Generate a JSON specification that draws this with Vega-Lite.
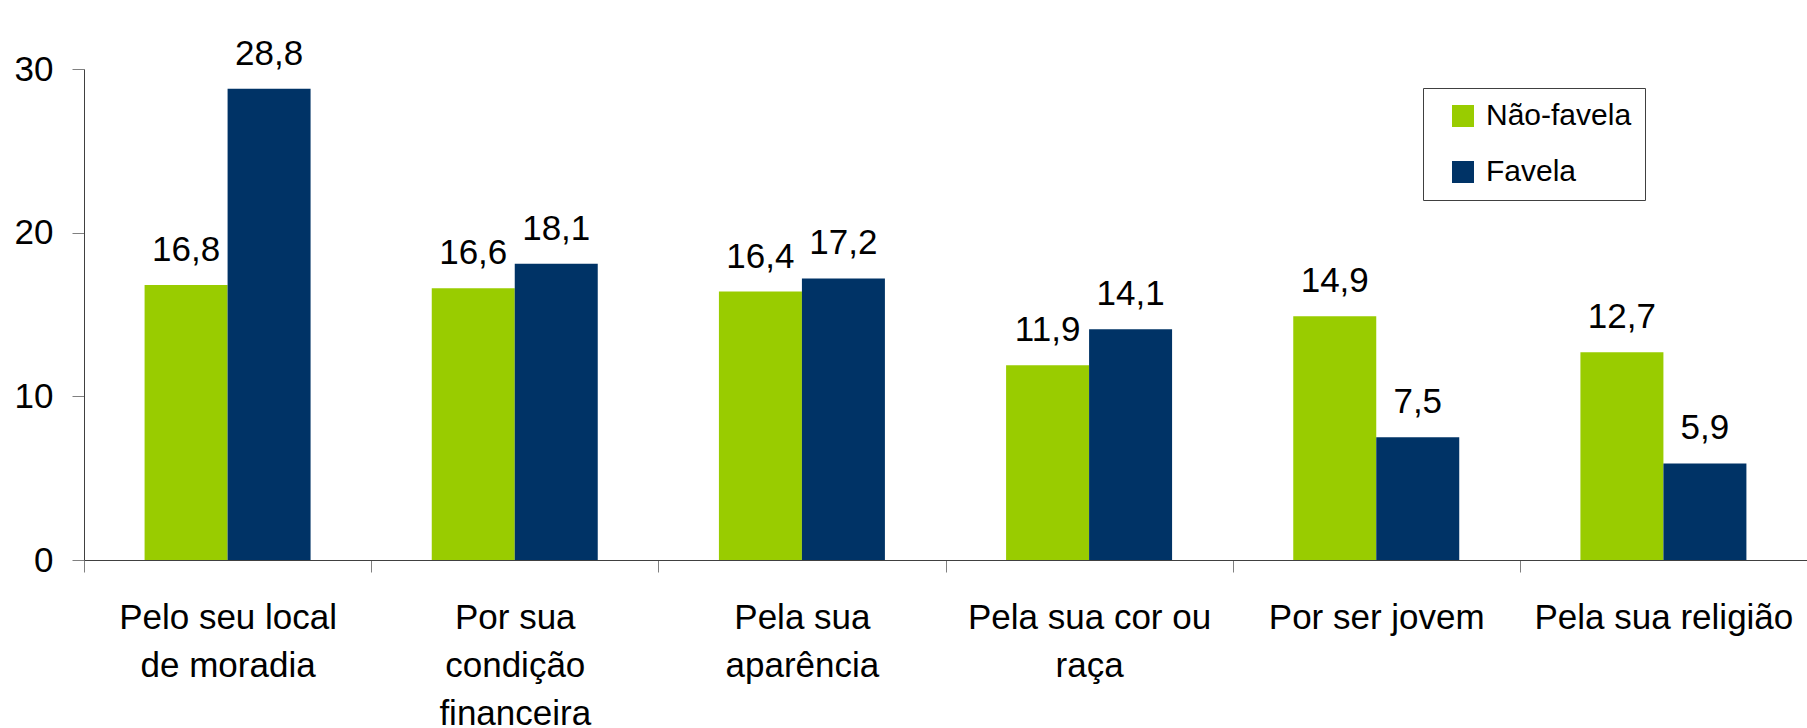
{
  "$schema": "https://vega.github.io/schema/vega-lite/v6.json",
  "width": 1723,
  "height": 491,
  "autosize": "none",
  "padding": {"left": 84, "top": 69, "right": 0, "bottom": 168},
  "background": "white",
  "config": {
    "font": "Liberation Sans",
    "view": {"stroke": null},
    "locale": {"number": {"decimal": ",", "thousands": ".", "grouping": [3], "currency": ["R$", ""]}}
  },
  "data": {
    "values": [
      {"motivo": "Pelo seu local\nde moradia", "grupo": "Não-favela", "valor": 16.8},
      {"motivo": "Pelo seu local\nde moradia", "grupo": "Favela", "valor": 28.8},
      {"motivo": "Por sua\ncondição\nfinanceira", "grupo": "Não-favela", "valor": 16.6},
      {"motivo": "Por sua\ncondição\nfinanceira", "grupo": "Favela", "valor": 18.1},
      {"motivo": "Pela sua\naparência", "grupo": "Não-favela", "valor": 16.4},
      {"motivo": "Pela sua\naparência", "grupo": "Favela", "valor": 17.2},
      {"motivo": "Pela sua cor ou\nraça", "grupo": "Não-favela", "valor": 11.9},
      {"motivo": "Pela sua cor ou\nraça", "grupo": "Favela", "valor": 14.1},
      {"motivo": "Por ser jovem", "grupo": "Não-favela", "valor": 14.9},
      {"motivo": "Por ser jovem", "grupo": "Favela", "valor": 7.5},
      {"motivo": "Pela sua religião", "grupo": "Não-favela", "valor": 12.7},
      {"motivo": "Pela sua religião", "grupo": "Favela", "valor": 5.9}
    ]
  },
  "encoding": {
    "x": {
      "field": "motivo", "type": "nominal", "sort": null,
      "scale": {"paddingInner": 0, "paddingOuter": 0},
      "axis": {
        "title": null, "labelAngle": 0, "labelFontSize": 35, "labelColor": "black",
        "labelExpr": "split(datum.label, '\\n')", "labelLineHeight": 48,
        "labelPadding": 28, "tickBand": "extent", "tickSize": 12,
        "tickColor": "#808080", "domainColor": "#404040", "labelLimit": 400
      }
    },
    "xOffset": {
      "field": "grupo", "type": "nominal", "sort": ["Não-favela", "Favela"],
      "scale": {"paddingInner": 0, "paddingOuter": 0.73}
    },
    "y": {
      "field": "valor", "type": "quantitative",
      "scale": {"domain": [0, 30], "nice": false},
      "axis": {
        "title": null, "values": [0, 10, 20, 30], "grid": false, "tickSize": 12,
        "labelPadding": 19, "labelFontSize": 35, "labelColor": "black",
        "tickColor": "#808080", "domainColor": "#404040"
      }
    }
  },
  "layer": [
    {
      "mark": {"type": "bar"},
      "encoding": {
        "color": {
          "field": "grupo", "type": "nominal",
          "scale": {"domain": ["Não-favela", "Favela"], "range": ["#99CC00", "#003366"]},
          "legend": {
            "title": null, "orient": "none", "legendX": 1339, "legendY": 19,
            "symbolType": "square", "symbolSize": 484, "symbolStrokeWidth": 0,
            "symbolOffset": 12, "labelOffset": 8,
            "labelFontSize": 30, "labelColor": "black", "labelLimit": 300,
            "padding": 13, "rowPadding": 26,
            "strokeColor": "#404040", "fillColor": "white"
          }
        }
      }
    },
    {
      "mark": {"type": "text", "baseline": "alphabetic", "dy": -24, "fontSize": 35, "color": "black"},
      "encoding": {
        "text": {"field": "valor", "type": "quantitative", "format": ".1f"}
      }
    }
  ]
}
